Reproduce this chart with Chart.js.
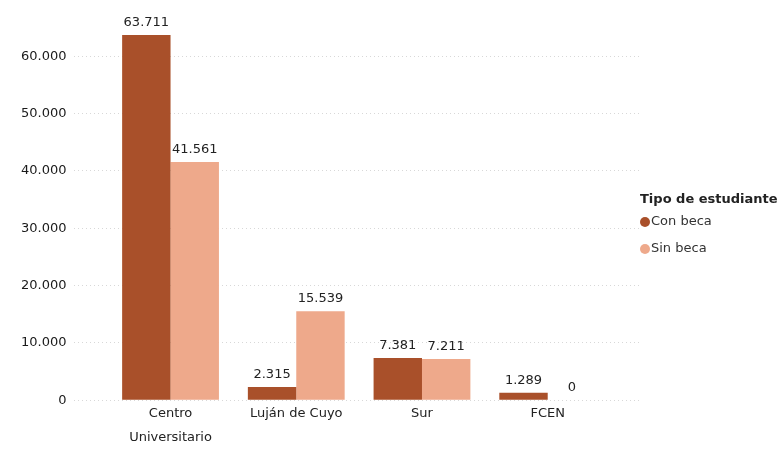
<!DOCTYPE html>
<html>
<head>
<meta charset="utf-8">
<script src="https://cdn.jsdelivr.net/npm/chart.js@4/dist/chart.umd.min.js"></script>
<style>
  html,body{margin:0;padding:0;background:#fff;}
  #wrap{width:781px;height:452px;position:relative;}
</style>
</head>
<body>
<div id="wrap"><canvas id="chart"></canvas></div>
<script>
// Data
const categories = [['Centro','Universitario'], 'Luján de Cuyo', 'Sur', 'FCEN'];
const conBeca = [63711, 2315, 7381, 1289];
const sinBeca = [41561, 15539, 7211, 0];
const seriesNames = ['Con beca', 'Sin beca'];
const legendTitle = 'Tipo de estudiante';
const yTicks = [0, 10000, 20000, 30000, 40000, 50000, 60000];

const colors = ['#a9502a', '#eea98b'];
const FONT = '"DejaVu Sans", Verdana, sans-serif';

const fmtNum = (n) => String(n).replace(/\B(?=(\d{3})+(?!\d))/g, '.');
const toPoints = (arr) => arr.map((v,i)=>({x:i, y:v}));

// value labels above bars
const valueLabels = {
  id:'valueLabels',
  afterDatasetsDraw(chart){
    const ctx = chart.ctx;
    ctx.save();
    ctx.font = `13px ${FONT}`;
    ctx.fillStyle = '#222';
    ctx.textAlign = 'center';
    ctx.textBaseline = 'bottom';
    chart.data.datasets.forEach((ds, di)=>{
      chart.getDatasetMeta(di).data.forEach((bar, i)=>{
        ctx.fillText(fmtNum(ds.data[i].y), bar.x, bar.y - 6);
      });
    });
    ctx.restore();
  }
};

// legend on the right, drawn next to the plot
const sideLegend = {
  id:'sideLegend',
  afterDraw(chart){
    const ctx = chart.ctx;
    const x = 640;
    ctx.save();
    ctx.textBaseline = 'middle';
    ctx.textAlign = 'left';
    ctx.font = `bold 13px ${FONT}`;
    ctx.fillStyle = '#222';
    ctx.fillText(legendTitle, x, 200);
    ctx.font = `13px ${FONT}`;
    chart.data.datasets.forEach((ds, i)=>{
      const y = 222 + i*27;
      ctx.beginPath();
      ctx.arc(x + 5, y, 5, 0, Math.PI*2);
      ctx.fillStyle = ds.backgroundColor;
      ctx.fill();
      ctx.fillStyle = '#333';
      ctx.fillText(ds.label, x + 11, y);
    });
    ctx.restore();
  }
};

new Chart(document.getElementById('chart'), {
  type:'bar',
  data:{
    datasets:[
      { label:seriesNames[0], data:toPoints(conBeca), backgroundColor:colors[0] },
      { label:seriesNames[1], data:toPoints(sinBeca), backgroundColor:colors[1] }
    ]
  },
  options:{
    responsive:true,
    maintainAspectRatio:false,
    animation:false,
    layout:{ padding:{ left:13, top:22, right:139, bottom:9 } },
    datasets:{ bar:{ barPercentage:1, categoryPercentage:0.77 } },
    scales:{
      x:{
        type:'linear',
        offset:false,
        min:-0.764, max:3.75,
        afterBuildTicks:(s)=>{ s.ticks = categories.map((_,i)=>({value:i})); },
        ticks:{
          autoSkip:false, maxRotation:0, padding:-6,
          callback:(v)=> categories[v],
          color:'#222',
          font:{ family:FONT, size:13, lineHeight:1.8 }
        },
        grid:{ display:false },
        border:{ display:false }
      },
      y:{
        min:0, max:66000,
        afterBuildTicks:(s)=>{ s.ticks = yTicks.map(v=>({value:v})); },
        ticks:{
          padding:8,
          callback:(v)=> fmtNum(v),
          color:'#1a1a1a',
          font:{ family:FONT, size:13 }
        },
        grid:{ color:'#d8d8d8', drawTicks:false },
        border:{ display:false, dash:[1,3] }
      }
    },
    plugins:{
      legend:{ display:false },
      tooltip:{ enabled:false }
    }
  },
  plugins:[valueLabels, sideLegend]
});
</script>
</body>
</html>
